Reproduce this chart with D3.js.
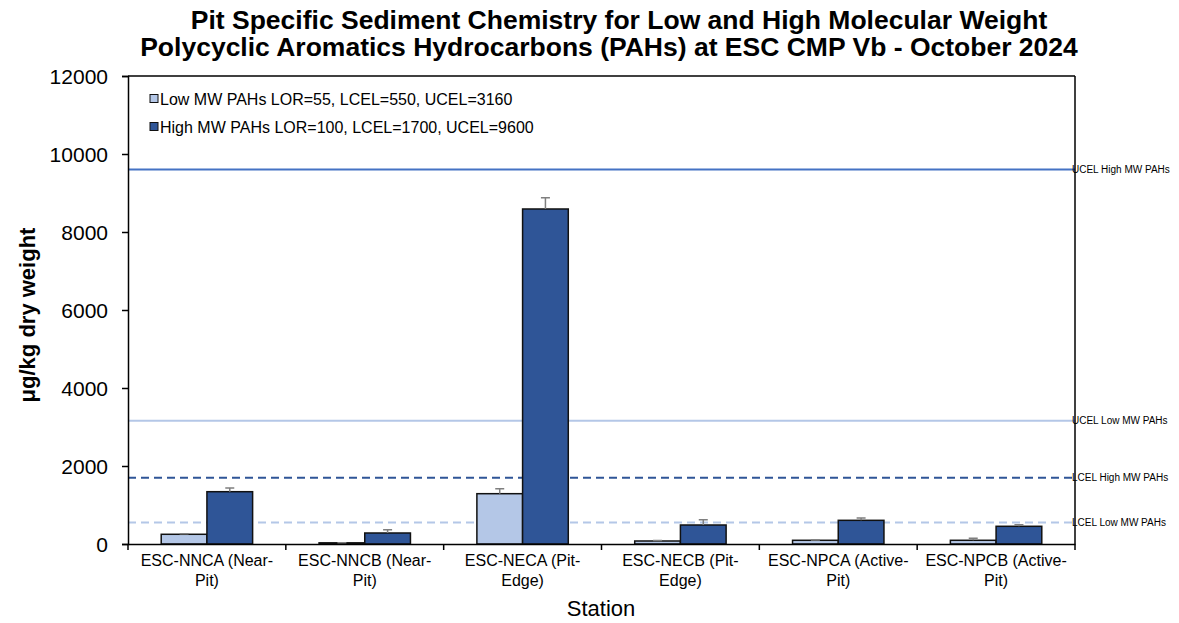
<!DOCTYPE html>
<html><head><meta charset="utf-8">
<script src="https://cdn.jsdelivr.net/npm/d3@7"></script>
<style>body{margin:0;background:#fff;font-family:"Liberation Sans",Arial,sans-serif;}</style>
</head><body><svg id="c" width="1179" height="623"></svg>
<script>
const stations = ["ESC-NNCA (Near-|Pit)","ESC-NNCB (Near-|Pit)","ESC-NECA (Pit-|Edge)","ESC-NECB (Pit-|Edge)","ESC-NPCA (Active-|Pit)","ESC-NPCB (Active-|Pit)"];
const lowMW = [249, 30, 1290, 77, 95, 95];
const lowErr = [15, 5, 128, 10, 10, 50];
const highMW = [1341, 282, 8590, 487, 607, 454];
const highErr = [95, 85, 290, 136, 60, 41];
const seriesNames = ["Low MW PAHs LOR=55, LCEL=550, UCEL=3160","High MW PAHs LOR=100, LCEL=1700, UCEL=9600"];
const yTicks = [0,2000,4000,6000,8000,10000,12000];
const refLines = [
  {name:"UCEL High MW PAHs", value:9600, color:"#4472C4", dash:null},
  {name:"UCEL Low MW PAHs", value:3160, color:"#B4C7E7", dash:null},
  {name:"LCEL High MW PAHs", value:1700, color:"#2F5597", dash:"8,5"},
  {name:"LCEL Low MW PAHs", value:550, color:"#B4C7E7", dash:"8,5"}
];
const colors = ["#B4C7E7","#2F5597"];

const svg = d3.select("#c");
const L=128, R=1075, T=76, B=544;
const x = d3.scaleBand().domain(stations).range([L,R]).paddingInner(0).paddingOuter(0);
const y = d3.scaleLinear().domain([0,12000]).range([B,T]);
const barW = 45.7;

// title
svg.append("text").attr("x",619).attr("y",29).attr("text-anchor","middle")
  .attr("font-size",26.5).attr("font-weight","bold").text("Pit Specific Sediment Chemistry for Low and High Molecular Weight");
svg.append("text").attr("x",609).attr("y",56).attr("text-anchor","middle")
  .attr("font-size",26.5).attr("font-weight","bold").text("Polycyclic Aromatics Hydrocarbons (PAHs) at ESC CMP Vb - October 2024");

// reference lines
refLines.forEach(r=>{
  svg.append("line").attr("x1",L).attr("x2",R).attr("y1",y(r.value)).attr("y2",y(r.value))
    .attr("stroke",r.color).attr("stroke-width",2).attr("stroke-dasharray",r.dash);
  svg.append("text").attr("x",R-3).attr("y",y(r.value)+3.5).attr("font-size",10).attr("fill","#000").text(r.name);
});

// bars
const groups = [lowMW, highMW], errs=[lowErr, highErr];
groups.forEach((vals,si)=>{
  const g = svg.append("g");
  g.selectAll("rect").data(vals).join("rect")
    .attr("x",(d,i)=>x(stations[i])+x.bandwidth()/2 - barW + si*barW)
    .attr("y",d=>y(d)).attr("width",barW).attr("height",d=>B-y(d))
    .attr("fill",colors[si]).attr("stroke","#111").attr("stroke-width",1.5);
  g.selectAll("path.err").data(vals).join("path").attr("class","err")
    .attr("d",(d,i)=>{
      const cx = x(stations[i])+x.bandwidth()/2 - barW/2 + si*barW;
      const y0=y(d), y1=y(d+errs[si][i]);
      return `M${cx},${y0}V${y1}M${cx-4.5},${y1}H${cx+4.5}`;
    }).attr("stroke","#7f7f7f").attr("stroke-width",1.5).attr("fill","none");
});

// axes
const ya = svg.append("g").attr("transform",`translate(${L},0)`)
  .call(d3.axisLeft(y).tickValues(yTicks).tickSize(6).tickFormat(d3.format("d")));
ya.select(".domain").attr("stroke","#000").attr("stroke-width",1.5);
ya.selectAll(".tick line").attr("stroke","#000").attr("stroke-width",1.5);
ya.selectAll(".tick text").attr("font-size",21).attr("font-family","Liberation Sans, Arial").attr("x",-20).attr("dy","0.35em").attr("fill","#000");

svg.append("line").attr("x1",R).attr("x2",R).attr("y1",T).attr("y2",B).attr("stroke","#000").attr("stroke-width",1.5);
svg.append("line").attr("x1",L).attr("x2",R).attr("y1",T).attr("y2",T).attr("stroke","#000").attr("stroke-width",1.5);

const xa = svg.append("g").attr("transform",`translate(0,${B})`)
  .call(d3.axisBottom(x).tickSize(0).tickFormat(""));
xa.select(".domain").attr("stroke","#000").attr("stroke-width",1.5);
const bounds = stations.map(s=>x(s)).concat([R]);
svg.selectAll("line.bt").data(bounds).join("line").attr("class","bt")
  .attr("x1",d=>d).attr("x2",d=>d).attr("y1",B).attr("y2",B+6).attr("stroke","#000").attr("stroke-width",1.5);
stations.forEach(s=>{
  const parts = s.split("|");
  const t = svg.append("text").attr("text-anchor","middle").attr("font-size",16).attr("fill","#000");
  parts.forEach((p,k)=>t.append("tspan").attr("x",x(s)+x.bandwidth()/2).attr("y",B+22+k*20).text(p));
});

svg.append("text").attr("x",601).attr("y",616).attr("text-anchor","middle").attr("font-size",22).text("Station");
svg.append("text").attr("transform","translate(35,315) rotate(-90)").attr("text-anchor","middle")
  .attr("font-size",22).attr("font-weight","bold").text("μg/kg dry weight");

// legend
seriesNames.forEach((n,i)=>{
  const yy = 99 + i*28;
  svg.append("rect").attr("x",150).attr("y",yy-4.5).attr("width",8).attr("height",8)
    .attr("fill",colors[i]).attr("stroke","#111").attr("stroke-width",1);
  svg.append("text").attr("x",160).attr("y",yy+5.5).attr("font-size",16).text(n);
});
</script></body></html>
